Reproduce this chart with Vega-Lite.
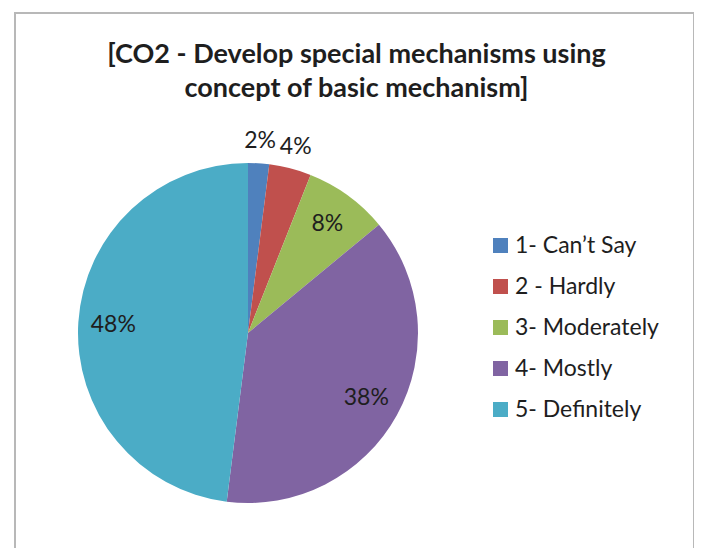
{
  "$schema": "https://vega.github.io/schema/vega-lite/v6.json",
  "width": 679,
  "height": 560,
  "autosize": {"type": "none"},
  "padding": {"left": 15, "top": 13, "right": 0, "bottom": 0},
  "background": "white",
  "config": {
    "view": {"stroke": null},
    "font": "Lato"
  },
  "title": {
    "text": ["[CO2 - Develop special mechanisms using", "concept of basic mechanism]"],
    "font": "Lato",
    "fontSize": 27,
    "fontWeight": "bold",
    "color": "#1e1e1e",
    "anchor": "middle",
    "orient": "top",
    "offset": 0,
    "lineHeight": 34,
    "dx": 2,
    "dy": 91
  },
  "layer": [
    {
      "data": {"values": [{"frame": "chart area"}]},
      "mark": {"type": "rect", "fill": null, "stroke": "#b8b8b8", "strokeWidth": 2},
      "encoding": {}
    },
    {
      "data": {
        "values": [
          {"category": "1- Can’t Say", "code": 1, "share": 0.02},
          {"category": "2 - Hardly", "code": 2, "share": 0.04},
          {"category": "3- Moderately", "code": 3, "share": 0.08},
          {"category": "4- Mostly", "code": 4, "share": 0.38},
          {"category": "5- Definitely", "code": 5, "share": 0.48}
        ]
      },
      "encoding": {
        "theta": {"field": "share", "type": "quantitative", "stack": true},
        "order": {"field": "code", "type": "ordinal"},
        "color": {
          "field": "category",
          "type": "nominal",
          "sort": ["1- Can’t Say", "2 - Hardly", "3- Moderately", "4- Mostly", "5- Definitely"],
          "scale": {
            "domain": ["1- Can’t Say", "2 - Hardly", "3- Moderately", "4- Mostly", "5- Definitely"],
            "range": ["#4F81BD", "#C0504D", "#9BBB59", "#8064A2", "#4BACC6"]
          },
          "legend": {
            "title": null,
            "orient": "none",
            "legendX": 474,
            "legendY": 221,
            "padding": 0,
            "symbolType": "square",
            "symbolSize": 225,
            "symbolStrokeWidth": 0,
            "labelFont": "Lato",
            "labelFontSize": 23,
            "labelColor": "#1e1e1e",
            "labelOffset": 3,
            "rowPadding": 17,
            "labelLimit": 300
          }
        }
      },
      "layer": [
        {
          "mark": {"type": "arc", "outerRadius": 170, "x": 233, "y": 320}
        },
        {
          "mark": {
            "type": "text", "x": 233, "y": 320,
            "radius": {"expr": "datum.share < 0.05 ? 192 : 135"},
            "font": "Lato", "fontSize": 23, "align": "center", "baseline": "middle"
          },
          "encoding": {
            "text": {"field": "share", "type": "quantitative", "format": ".0%"},
            "color": {"value": "#1e1e1e"}
          }
        }
      ]
    }
  ]
}
